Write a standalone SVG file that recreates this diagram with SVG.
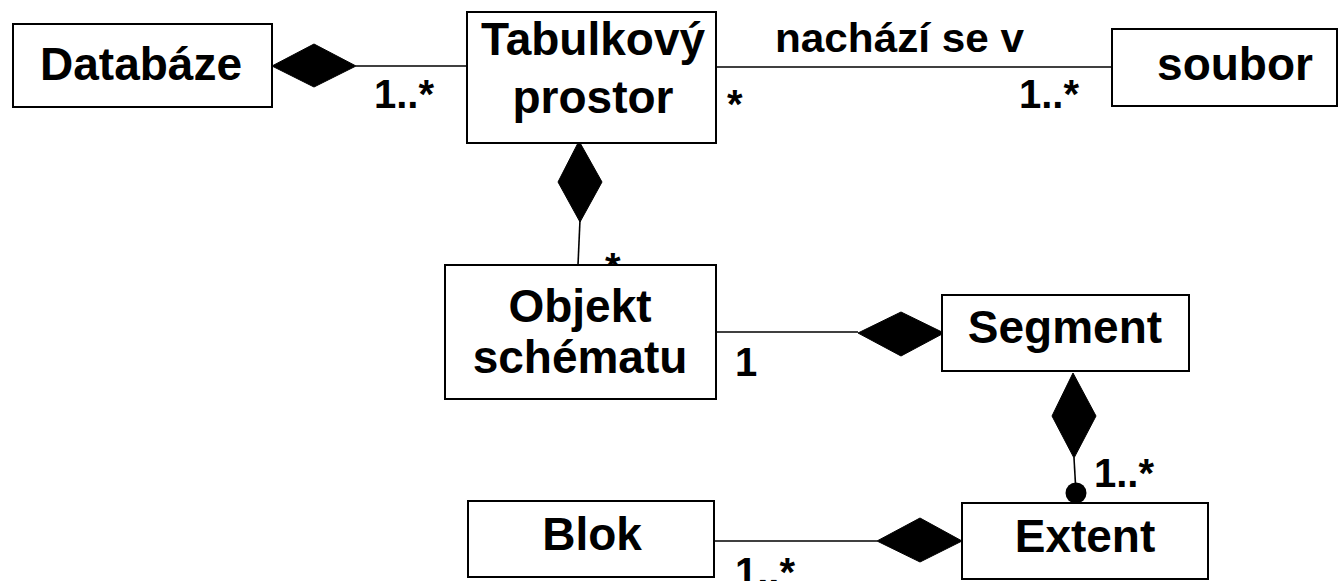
<svg xmlns="http://www.w3.org/2000/svg" width="1339" height="581" viewBox="0 0 1339 581">
<style>
.box{fill:#fff;stroke:#000;stroke-width:2}
.name{font-family:"Liberation Sans",Arial,sans-serif;font-weight:bold;font-size:46px;text-anchor:middle;fill:#000}
.mult{font-family:"Liberation Sans",Arial,sans-serif;font-weight:bold;font-size:40px;fill:#000}
.ln{fill:none;stroke:#000;stroke-width:1.6}
.dia{fill:#000;stroke:#000;stroke-width:1}
</style>
<rect width="1339" height="581" fill="#fff"/>
<g id="connectors">
<line class="ln" x1="356" y1="66" x2="467" y2="66"/>
<polygon class="dia" points="272,66 314,44 356,66 314,87"/>
<line class="ln" x1="716" y1="67" x2="1112" y2="67"/>
<line class="ln" x1="580" y1="220" x2="578" y2="265"/>
<polygon class="dia" points="579,141 602,182 580,222 558,182"/>
<line class="ln" x1="716" y1="332" x2="858" y2="332"/>
<polygon class="dia" points="858,333 901,312 944,333 901,356"/>
<line class="ln" x1="1074" y1="458" x2="1076" y2="493"/>
<polygon class="dia" points="1073,373 1096,416 1074,458 1052,416"/>
<circle cx="1076" cy="493" r="10.5" fill="#000"/>
<line class="ln" x1="714" y1="541" x2="877" y2="541"/>
<polygon class="dia" points="877,541 920,518 962,541 920,562"/>
<text class="mult" x="775" y="52" textLength="249" lengthAdjust="spacingAndGlyphs">nachází se v</text>
<text class="mult" x="374" y="108">1..*</text>
<text class="mult" x="727" y="118">*</text>
<text class="mult" x="1019" y="108">1..*</text>
<text class="mult" x="605" y="281">*</text>
<text class="mult" x="735" y="376">1</text>
<text class="mult" x="1094" y="487">1..*</text>
<text class="mult" x="735" y="586">1..*</text>
</g>
<g id="databaze">
<rect class="box" x="13" y="24" width="259" height="83"/>
<text class="name" x="141" y="80">Databáze</text>
</g>
<g id="tabulkovy-prostor">
<rect class="box" x="467" y="12" width="249" height="131"/>
<text class="name" x="593" y="55">Tabulkový</text>
<text class="name" x="593" y="113">prostor</text>
</g>
<g id="soubor">
<rect class="box" x="1112" y="29" width="225" height="77"/>
<text class="name" x="1235" y="80">soubor</text>
</g>
<g id="objekt-schematu">
<rect class="box" x="445" y="265" width="271" height="134"/>
<text class="name" x="580" y="322">Objekt</text>
<text class="name" x="580" y="373">schématu</text>
</g>
<g id="segment">
<rect class="box" x="942" y="295" width="247" height="76"/>
<text class="name" x="1065" y="343">Segment</text>
</g>
<g id="extent">
<rect class="box" x="962" y="503" width="246" height="76"/>
<text class="name" x="1085" y="552">Extent</text>
</g>
<g id="blok">
<rect class="box" x="468" y="501" width="246" height="76"/>
<text class="name" x="592" y="550">Blok</text>
</g>
</svg>
